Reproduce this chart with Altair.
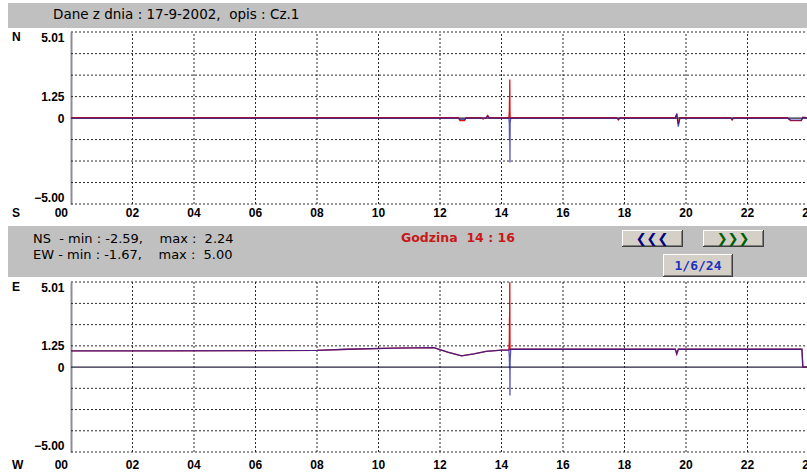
import altair as alt
import pandas as pd

# ---------------- data ----------------
hours = [0, 2, 4, 6, 8, 10, 12, 14, 16, 18, 20, 22, 24]
hour_labels = ["00", "02", "04", "06", "08", "10", "12", "14", "16", "18", "20", "22", "24"]
grid_levels = [-5.0, -3.75, -2.5, -1.25, 1.25, 2.5, 3.75, 5.01]
label_levels = [5.01, 1.25, 0.0, -5.0]

# NS component (upper panel)
ns_time = [0, 12.6, 12.65, 12.8, 12.85, 13.35, 13.4, 13.5, 13.55, 13.6, 14.24, 14.255, 14.26,
           14.265, 14.27, 14.275, 14.28, 14.3, 17.75, 17.8, 17.85, 19.65, 19.7, 19.75, 19.8,
           21.45, 21.5, 21.55, 23.3, 23.4, 23.75, 23.8, 24]
ns_red = [0.02, 0.02, -0.15, -0.15, 0.02, 0.02, -0.05, 0.02, 0.15, 0.02, 0.02, 0.4, 1.1,
          1.1, 2.24, 0.5, 0.02, 0.02, 0.02, -0.1, 0.02, 0.02, 0.2, -0.35, 0.02,
          0.02, -0.12, 0.02, 0.02, -0.15, -0.15, 0.05, 0.02]
ns_blue = [0.0, 0.0, -0.08, -0.08, 0.0, 0.0, 0.0, 0.0, 0.1, 0.0, 0.0, -0.3, -1.2,
           -1.3, -0.5, -2.59, -0.3, 0.0, 0.0, -0.05, 0.0, 0.0, 0.25, -0.5, 0.0,
           0.0, -0.05, 0.0, 0.0, -0.1, -0.12, 0.03, 0.0]

# EW component (lower panel)
ew_time = [0, 3, 6, 8, 9, 10.5, 11.8, 12.25, 12.7, 13.1, 13.5, 14.0, 14.24, 14.255, 14.26,
           14.265, 14.27, 14.275, 14.28, 14.3, 15, 19.65, 19.7, 19.75, 22.2, 23.7, 23.77, 23.8, 24]
ew_red = [0.95, 0.95, 0.97, 0.98, 1.05, 1.12, 1.15, 0.88, 0.66, 0.78, 0.92, 1.0, 1.0, 1.6, 2.9,
          2.9, 5.0, 1.3, 1.05, 1.05, 1.05, 1.05, 0.75, 1.05, 1.05, 1.05, 1.05, 0.0, 0.0]
ew_blue = [0.95, 0.95, 0.97, 0.98, 1.05, 1.12, 1.15, 0.88, 0.66, 0.78, 0.92, 1.0, 1.0, 0.6, 0.0,
           -0.1, 0.7, -1.67, 0.3, 1.05, 1.05, 1.05, 0.8, 1.05, 1.05, 1.05, 1.05, 0.0, 0.0]

title_text = "Dane z dnia : 17-9-2002,\u00a0 opis : Cz.1"
ns_stats = "NS\u00a0 - min : -2.59,\u00a0\u00a0\u00a0 max :\u00a0 2.24"
ew_stats = "EW - min : -1.67,\u00a0\u00a0\u00a0 max :\u00a0 5.00"
hour_text = "Godzina\u00a0 14 : 16"

# ---------------- tables ----------------
df_vgrid = pd.DataFrame({"h": hours[1:], "lo": -5.0, "hi": 5.01})
df_hgrid = pd.DataFrame({"v": grid_levels, "x0": 0.0, "x1": 24.0})
df_zero = pd.DataFrame({"v": [0.0], "x0": [0.0], "x1": [24.0]})
df_xlab = pd.DataFrame({"h": hours, "lab": hour_labels})
df_ns_red = pd.DataFrame({"t": ns_time, "v": ns_red})
df_ns_blue = pd.DataFrame({"t": ns_time, "v": ns_blue})
df_ew_red = pd.DataFrame({"t": ew_time, "v": ew_red})
df_ew_blue = pd.DataFrame({"t": ew_time, "v": ew_blue})
dummy = pd.DataFrame({"k": [0]})

FONT = "Liberation Sans"
TFONT = "DejaVu Sans"
GRID = "#2a2a2a"
LEFT = 71

X = alt.Scale(domain=[0, 24], range=[0, 738], nice=False, zero=False)


def yscale(top, bottom):
    return alt.Scale(domain=[-5.0, 5.01], range=[bottom, top], nice=False, zero=False)


Y_TOP = yscale(32, 204)
Y_BOT = yscale(282, 452)


def box(x0, y0, x1, y1, color):
    return alt.Chart(dummy).mark_rect(color=color).encode(
        x=alt.value(x0 - LEFT), x2=alt.value(x1 - LEFT), y=alt.value(y0), y2=alt.value(y1))


def label(text, x, y, size=13, weight="normal", color="black", align="left", font=FONT):
    return alt.Chart(dummy).mark_text(
        text=text, font=font, fontSize=size, fontWeight=weight, color=color,
        align=align, baseline="middle").encode(x=alt.value(x - LEFT), y=alt.value(y))


def button(x0, y0, x1, y1):
    return [
        box(x0, y0, x1, y1, "#404040"),
        box(x0, y0, x1 - 1, y1 - 1, "#ffffff"),
        box(x0 + 1, y0 + 1, x1 - 1, y1 - 1, "#808080"),
        box(x0 + 1, y0 + 1, x1 - 2, y1 - 2, "#d4d0c8"),
    ]


def panel(scale, d_red, d_blue, xlab_y):
    vgrid = alt.Chart(df_vgrid).mark_rule(strokeDash=[2, 2], color=GRID, strokeWidth=1).encode(
        x=alt.X("h:Q", scale=X, axis=None),
        y=alt.Y("lo:Q", scale=scale, axis=None), y2="hi:Q")
    hgrid = alt.Chart(df_hgrid).mark_rule(strokeDash=[2, 2], color=GRID, strokeWidth=1).encode(
        x=alt.X("x0:Q", scale=X, axis=None), x2="x1:Q",
        y=alt.Y("v:Q", scale=scale, axis=alt.Axis(
            values=label_levels, orient="left",
            labelExpr="datum.value == 0 ? '0' : format(datum.value, '.2f')",
            ticks=False, tickSize=0, grid=False, domainColor="#8c8c98", domainWidth=2,
            labelFont=FONT, labelFontWeight="bold", labelFontSize=12, labelColor="black",
            labelPadding=7, labelFlush=True, title=None)))
    zero = alt.Chart(df_zero).mark_rule(color="#24243c", strokeWidth=1.3).encode(
        x=alt.X("x0:Q", scale=X, axis=None), x2="x1:Q",
        y=alt.Y("v:Q", scale=scale, axis=None))
    red = alt.Chart(d_red).mark_line(color="#e01010", strokeWidth=1.3).encode(
        x=alt.X("t:Q", scale=X, axis=None), y=alt.Y("v:Q", scale=scale, axis=None))
    blue = alt.Chart(d_blue).mark_line(color="#1c1ca0", strokeWidth=1.3, opacity=0.75).encode(
        x=alt.X("t:Q", scale=X, axis=None), y=alt.Y("v:Q", scale=scale, axis=None))
    xl = alt.Chart(df_xlab).transform_filter("datum.h > 0").mark_text(
        font=FONT, fontSize=12, fontWeight="bold", color="black", align="center",
        baseline="middle").encode(
        x=alt.X("h:Q", scale=X, axis=None), y=alt.value(xlab_y), text="lab:N")
    xl0 = alt.Chart(df_xlab).transform_filter("datum.h == 0").mark_text(
        font=FONT, fontSize=12, fontWeight="bold", color="black", align="right",
        baseline="middle", dx=-3).encode(
        x=alt.X("h:Q", scale=X, axis=None), y=alt.value(xlab_y), text="lab:N")
    return [vgrid, hgrid, zero, red, blue, xl, xl0]


layers = [
    box(8, 3, 809, 28, "#c0c0c0"),
    box(8, 226, 809, 277, "#c0c0c0"),
]
layers += panel(Y_TOP, df_ns_red, df_ns_blue, 213)
layers += panel(Y_BOT, df_ew_red, df_ew_blue, 465)
layers += [
    label(title_text, 53, 15, size=13.5, font=TFONT),
    label("N", 12, 37, size=12, weight="bold"),
    label("S", 12, 213, size=12, weight="bold"),
    label("E", 12, 287, size=12, weight="bold"),
    label("W", 12, 465, size=12, weight="bold"),
    label(ns_stats, 33, 239, size=13, font=TFONT),
    label(ew_stats, 33, 255, size=13, font=TFONT),
    label(hour_text, 401, 238, size=12.5, weight="bold", color="#c81818", font=TFONT),
]
layers += button(622, 230, 683, 247)
layers += button(703, 230, 764, 247)
layers += button(663, 254, 733, 277)
layers += [
    label("\u276e\u276e\u276e", 652, 239, size=13, weight="bold", color="#000080",
          align="center", font="DejaVu Sans"),
    label("\u276f\u276f\u276f", 733, 239, size=13, weight="bold", color="#006000",
          align="center", font="DejaVu Sans"),
    label("1/6/24", 698, 266, size=13, weight="bold", color="#2030c0", align="center",
          font="DejaVu Sans Mono"),
]

chart = alt.layer(*layers).resolve_scale(y="independent").properties(
    width=736, height=475,
    autosize=alt.AutoSizeParams(type="none"),
    padding={"left": LEFT, "top": 0, "right": 0, "bottom": 0},
    background="white",
).configure_view(stroke=None)

chart.save("out.html", embed_options={"renderer": "svg", "actions": False})
